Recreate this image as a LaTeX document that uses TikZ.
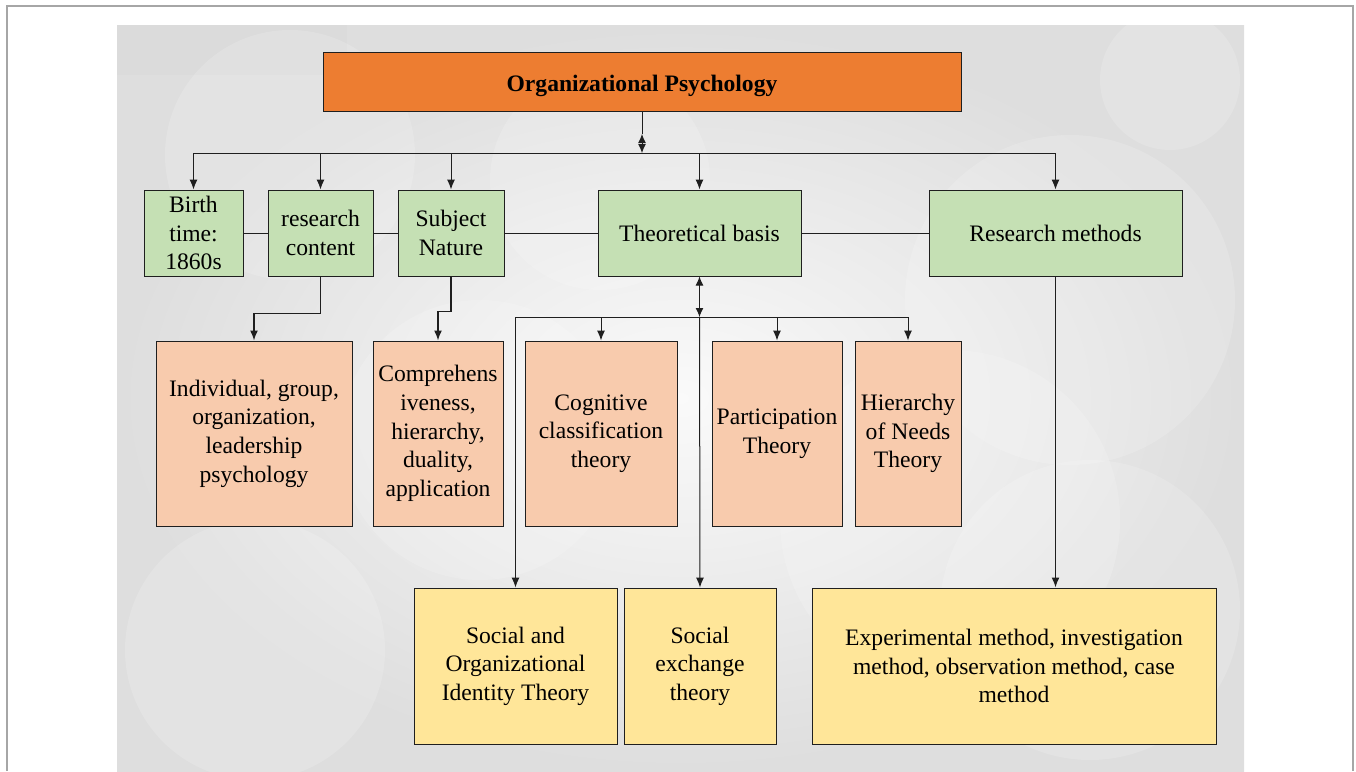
\documentclass[tikz,border=0pt]{standalone}
\usepackage{fontspec}
\setmainfont{Liberation Serif}
\usetikzlibrary{arrows.meta,calc}
\definecolor{titleF}{HTML}{ED7D31}
\definecolor{greenF}{HTML}{C5E0B4}
\definecolor{peachF}{HTML}{F8CBAD}
\definecolor{yellowF}{HTML}{FFE699}
\definecolor{lineC}{HTML}{1F1F1F}
\begin{document}
\begin{tikzpicture}[x=1pt,y=-1pt,
  box/.style={draw=lineC, line width=1pt, align=center, inner sep=0pt,
              font=\fontsize{23.6}{28.6}\selectfont, text=black},
  tbox/.style={box, fill=titleF, font=\bfseries\fontsize{23.6}{28.6}\selectfont},
  gbox/.style={box, fill=greenF, minimum height=86},
  pbox/.style={box, fill=peachF, minimum height=185},
  ybox/.style={box, fill=yellowF, minimum height=156},
  conn/.style={line width=1pt, draw=lineC},
  arr/.style={conn, -{Latex[length=10pt,width=8pt]}},
  darr/.style={conn, {Latex[length=9pt,width=8pt]}-{Latex[length=9pt,width=8pt]}},
  bubble/.style={fill=white, fill opacity=0.16, draw=none}
]
\useasboundingbox (0,0) rectangle (1356,771);
% outer frame
\draw[gray!70, line width=1.2pt] (7,771) -- (7,6) -- (1353,6) -- (1353,771);
% background
\begin{scope}
\clip (117,25) rectangle (1244,771);
\shade[inner color=gray!4, outer color=gray!26] (117,25) rectangle (1244,771);
\fill[gray!30, opacity=0.45] (117,25) rectangle (347,75);
\fill[bubble] (290,155) circle (125);
\fill[bubble] (1170,80) circle (70);
\fill[bubble] (1070,300) circle (165);
\fill[bubble] (950,520) circle (170);
\fill[bubble] (255,650) circle (130);
\fill[bubble] (1090,610) circle (150);
\fill[bubble] (600,180) circle (110);
\fill[bubble] (480,440) circle (140);
\end{scope}

% nodes
\node[tbox, minimum width=638, minimum height=59, text height=19pt, text depth=0pt] (title) at (642,81.5) {Organizational Psychology};

\node[gbox, minimum width=99] (birth) at (193.5,233) {Birth\\time:\\1860s};
\node[gbox, minimum width=105] (rc) at (320.5,233) {research\\content};
\node[gbox, minimum width=106] (sn) at (451,233) {Subject\\Nature};
\node[gbox, minimum width=203] (tbasis) at (699.5,233) {Theoretical basis};
\node[gbox, minimum width=253] (rm) at (1055.5,233) {Research methods};

\node[pbox, minimum width=196] (ind) at (254,433.5) {Individual, group,\\organization,\\leadership\\psychology};
\node[pbox, minimum width=130] (comp) at (438,433.5) {Comprehens\\iveness,\\hierarchy,\\duality,\\application};
\node[pbox, minimum width=152] (cog) at (601,433.5) {Cognitive\\classification\\theory};
\node[pbox, minimum width=130] (part) at (777,433.5) {Participation\\Theory};
\node[pbox, minimum width=106] (hier) at (908,433.5) {Hierarchy\\of Needs\\Theory};

\node[ybox, minimum width=203] (soi) at (515.5,666) {Social and\\Organizational\\Identity Theory};
\node[ybox, minimum width=152] (se) at (700,666) {Social\\exchange\\theory};
\node[ybox, minimum width=404] (exp) at (1014,666) {Experimental method, investigation\\method, observation method, case\\method};

% top bus
\coordinate (tb) at (642,153);
\coordinate (tbUp) at (642,134);
\draw[conn] (title.south) -- (tbUp);
\draw[darr] (tbUp) -- (tb);
\draw[conn] (birth.north |- tb) -- (rm.north |- tb);
\foreach \n in {birth,rc,sn,tbasis,rm}
  \draw[arr] (\n.north |- tb) -- (\n.north);

% horizontal links
\draw[conn] (birth.east) -- (rc.west);
\draw[conn] (rc.east) -- (sn.west);
\draw[conn] (sn.east) -- (tbasis.west);
\draw[conn] (tbasis.east) -- (rm.west);

% elbows
\draw[arr, line width=1.5pt] (rc.south) -- ++(0,37) -| (ind.north);
\draw[arr, line width=1.5pt] (sn.south) -- ++(0,35) -| (comp.north);

% theoretical basis bus
\coordinate (t2) at (699.5,317);
\draw[darr] (tbasis.south) -- (t2);
\draw[conn] (soi.north |- t2) -- (hier.north |- t2);
\foreach \n in {cog,part,hier,soi}
  \draw[arr] (\n.north |- t2) -- (\n.north);
\draw[arr] (t2) -- (se.north);

% research methods
\draw[arr, line width=1.5pt] (rm.south) -- (rm.south |- exp.north);
\end{tikzpicture}
\end{document}
